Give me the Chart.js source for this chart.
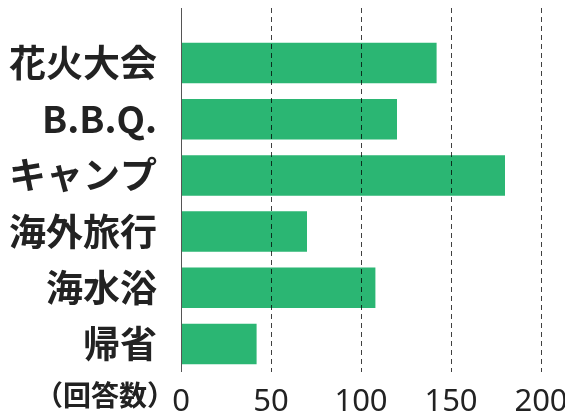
<!DOCTYPE html>
<html>
<head>
<meta charset="utf-8">
<script src="https://cdn.jsdelivr.net/npm/chart.js@4"></script>
<style>
  html, body { margin: 0; padding: 0; background: #fff; }
  #wrap { width: 565px; height: 414px; }
</style>
</head>
<body>
<div id="wrap"><canvas id="chart"></canvas></div>
<script>
// 夏の予定アンケート (回答数)
const categories = ['花火大会', 'B.B.Q.', 'キャンプ', '海外旅行', '海水浴', '帰省'];
const counts = [142, 120, 180, 70, 108, 42];
const xMin = 0;
const xMax = 200;
const xStep = 50;
const unitLabel = '（回答数）';

const barColor = '#2bb673';
const cjkFont = '"Noto Sans CJK JP", "Noto Sans", sans-serif';

// dashed grid + axis line that run above the first bar, and the unit label
const extraDraw = {
    id: 'extraDraw',
    afterDatasetsDraw(chart) {
        const ctx = chart.ctx;
        const x = chart.scales.x;
        const area = chart.chartArea;
        const top = 8;
        ctx.save();
        ctx.lineWidth = 1;
        ctx.strokeStyle = 'rgba(0, 0, 0, 0.75)';
        ctx.setLineDash([5, 4]);
        x.ticks.forEach(t => {
            if (t.value === xMin) return;
            const px = Math.round(x.getPixelForValue(t.value)) + 0.5;
            ctx.beginPath();
            ctx.moveTo(px, top);
            ctx.lineTo(px, area.bottom);
            ctx.stroke();
        });
        ctx.setLineDash([]);
        ctx.strokeStyle = '#555';
        const x0 = Math.round(x.getPixelForValue(xMin)) + 0.5;
        ctx.beginPath();
        ctx.moveTo(x0, top);
        ctx.lineTo(x0, area.bottom);
        ctx.stroke();

        ctx.fillStyle = '#222';
        ctx.font = 'bold 28px ' + cjkFont;
        ctx.textAlign = 'right';
        ctx.textBaseline = 'middle';
        ctx.fillText(unitLabel, area.left - 6, 395);
        ctx.restore();
    }
};

new Chart(document.getElementById('chart'), {
    type: 'bar',
    data: {
        labels: categories,
        datasets: [{
            data: counts,
            backgroundColor: barColor,
            borderWidth: 0,
            barPercentage: 0.72,
            categoryPercentage: 1.0,
        }],
    },
    options: {
        indexAxis: 'y',
        responsive: true,
        maintainAspectRatio: false,
        animation: false,
        layout: { padding: { top: 35, left: 0, right: 0, bottom: 0 } },
        plugins: {
            legend: { display: false },
            tooltip: { enabled: false },
        },
        scales: {
            x: {
                min: xMin,
                max: xMax,
                grid: { display: false, drawTicks: false },
                border: { display: false },
                ticks: {
                    stepSize: xStep,
                    padding: 12,
                    color: '#222',
                    font: { family: '"Noto Sans", sans-serif', size: 31 },
                },
                afterFit(scale) {
                    scale.height = 42;
                    scale.paddingRight = 24;
                },
            },
            y: {
                grid: { display: false, drawTicks: false },
                border: { display: false },
                ticks: {
                    padding: 24,
                    color: '#222',
                    font: { family: cjkFont, size: 37, weight: 'bold' },
                },
                afterFit(scale) {
                    scale.width = 181;
                    scale.paddingTop = 0;
                    scale.paddingBottom = 0;
                },
            },
        },
    },
    plugins: [extraDraw],
});
</script>
</body>
</html>
